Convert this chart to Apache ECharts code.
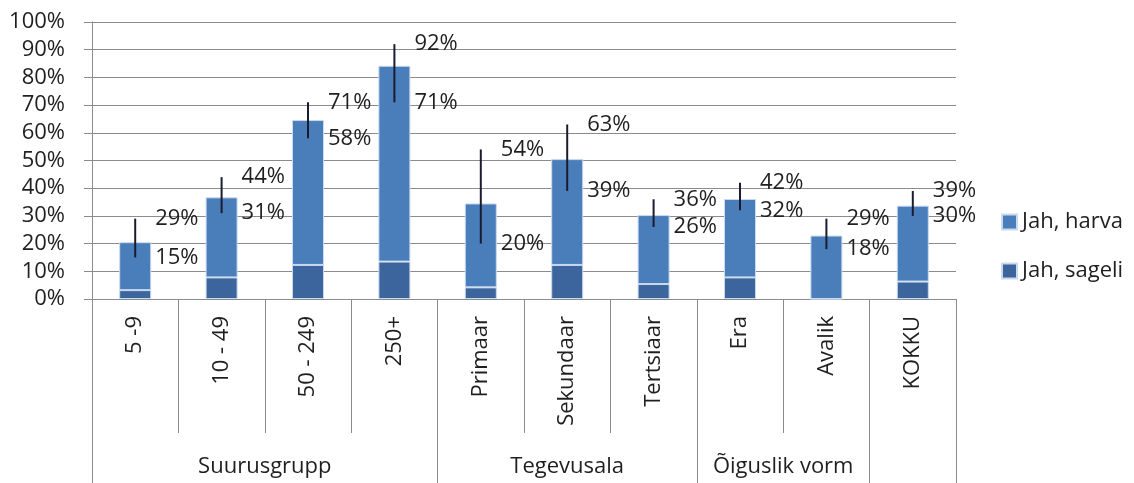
<!DOCTYPE html>
<html>
<head>
<meta charset="utf-8">
<script src="https://cdn.jsdelivr.net/npm/echarts@6/dist/echarts.min.js"></script>
<style>
  html, body { margin: 0; padding: 0; background: #fff; }
  #chart { width: 1134px; height: 483px; }
</style>
</head>
<body>
<div id="chart"></div>
<script>
// Categories along the x axis and the groups they belong to
const categories = ['5 -9', '10 - 49', '50 - 249', '250+', 'Primaar', 'Sekundaar', 'Tertsiaar', 'Era', 'Avalik', 'KOKKU'];
const groupNames = ['Suurusgrupp', 'Tegevusala', 'Õiguslik vorm', ''];
const groupSizes = [4, 3, 2, 1];

// Shares in percent
const sageli = [3.2, 7.8, 12.3, 13.5, 4.2, 12.3, 5.4, 7.8, 0, 6.3];
const harva = [17.3, 28.9, 52.3, 70.7, 30.3, 38.2, 24.9, 28.3, 22.9, 27.4];

// Confidence interval ends for the total share
const ciLow = [15, 31, 58, 71, 20, 39, 26, 32, 18, 30];
const ciHigh = [29, 44, 71, 92, 54, 63, 36, 42, 29, 39];

// Value axis ticks
const yMin = 0, yMax = 100, yStep = 10;

const FONT = '"Open Sans", "Noto Sans", sans-serif';
const TEXT = '#1f1f1f';
const GRID_GRAY = '#8c8c8c';

// Group boundaries (category indices where a new group starts) and label centres
const groupStarts = [];
const groupCentres = {};
let acc = 0;
groupSizes.forEach((n, i) => {
  groupStarts.push(acc);
  groupCentres[acc + n / 2] = groupNames[i];
  acc += n;
});

const ciData = categories.map((c, i) => [i, ciLow[i], ciHigh[i]]);

const chart = echarts.init(document.getElementById('chart'));

chart.setOption({
  animation: false,
  textStyle: { fontFamily: FONT },
  grid: { left: 92, right: 178, top: 22, bottom: 184 },
  legend: {
    data: ['Jah, harva', 'Jah, sageli'],
    orient: 'vertical',
    left: 996,
    top: 205,
    icon: 'rect',
    itemWidth: 15,
    itemHeight: 15,
    itemGap: 25,
    textStyle: { fontFamily: FONT, fontSize: 22, color: TEXT, lineHeight: 24 }
  },
  xAxis: [
    {
      type: 'category',
      data: categories,
      position: 'bottom',
      axisLine: { show: true, lineStyle: { color: GRID_GRAY, width: 1 } },
      axisTick: { show: true, interval: 0, length: 134, lineStyle: { color: GRID_GRAY, width: 1 } },
      axisLabel: { interval: 0, rotate: 90, margin: 17, fontFamily: FONT, fontSize: 22, color: TEXT }
    },
    {
      // group separators reaching the bottom edge
      type: 'category',
      data: categories,
      position: 'bottom',
      axisLine: { show: false },
      axisTick: {
        show: true,
        length: 190,
        interval: (idx) => groupStarts.indexOf(idx) >= 0,
        lineStyle: { color: GRID_GRAY, width: 1 }
      },
      axisLabel: { show: false }
    },
    {
      // group names centred under their categories
      type: 'value',
      min: 0,
      max: categories.length,
      interval: 0.5,
      position: 'bottom',
      axisLine: { show: false },
      axisTick: { show: false },
      splitLine: { show: false },
      axisLabel: {
        margin: 157,
        fontFamily: FONT,
        fontSize: 22,
        color: TEXT,
        showMinLabel: true,
        showMaxLabel: true,
        formatter: (v) => groupCentres[v] || ''
      }
    }
  ],
  yAxis: {
    type: 'value',
    min: yMin,
    max: yMax,
    interval: yStep,
    axisLine: { show: true, lineStyle: { color: GRID_GRAY, width: 1 } },
    axisTick: { show: true, length: 8, lineStyle: { color: GRID_GRAY, width: 1 } },
    splitLine: { show: true, lineStyle: { color: GRID_GRAY, width: 1 } },
    axisLabel: { formatter: '{value}%', margin: 27, fontFamily: FONT, fontSize: 22, color: TEXT }
  },
  series: [
    {
      name: 'Jah, sageli',
      type: 'bar',
      stack: 'total',
      barWidth: 32,
      data: sageli,
      itemStyle: { color: '#3c659e', borderColor: '#c9d9ee', borderWidth: 1 }
    },
    {
      name: 'Jah, harva',
      type: 'bar',
      stack: 'total',
      barWidth: 32,
      data: harva,
      itemStyle: { color: '#4a7ebb', borderColor: '#c9d9ee', borderWidth: 1 }
    },
    {
      name: 'ci',
      type: 'custom',
      z: 10,
      data: ciData,
      encode: { x: 0, y: [1, 2] },
      renderItem: (params, api) => {
        const i = api.value(0);
        const lo = api.value(1);
        const hi = api.value(2);
        const pLo = api.coord([i, lo]);
        const pHi = api.coord([i, hi]);
        const tx = pLo[0] + 20;
        return {
          type: 'group',
          children: [
            {
              type: 'line',
              shape: { x1: pLo[0], y1: pLo[1], x2: pHi[0], y2: pHi[1] },
              style: { stroke: '#1b1b30', lineWidth: 2 }
            },
            {
              type: 'text',
              x: tx, y: pHi[1],
              style: { text: hi + '%', fill: TEXT, font: '22px ' + FONT, align: 'left', verticalAlign: 'middle' }
            },
            {
              type: 'text',
              x: tx, y: pLo[1],
              style: { text: lo + '%', fill: TEXT, font: '22px ' + FONT, align: 'left', verticalAlign: 'middle' }
            }
          ]
        };
      }
    }
  ]
});
</script>
</body>
</html>
